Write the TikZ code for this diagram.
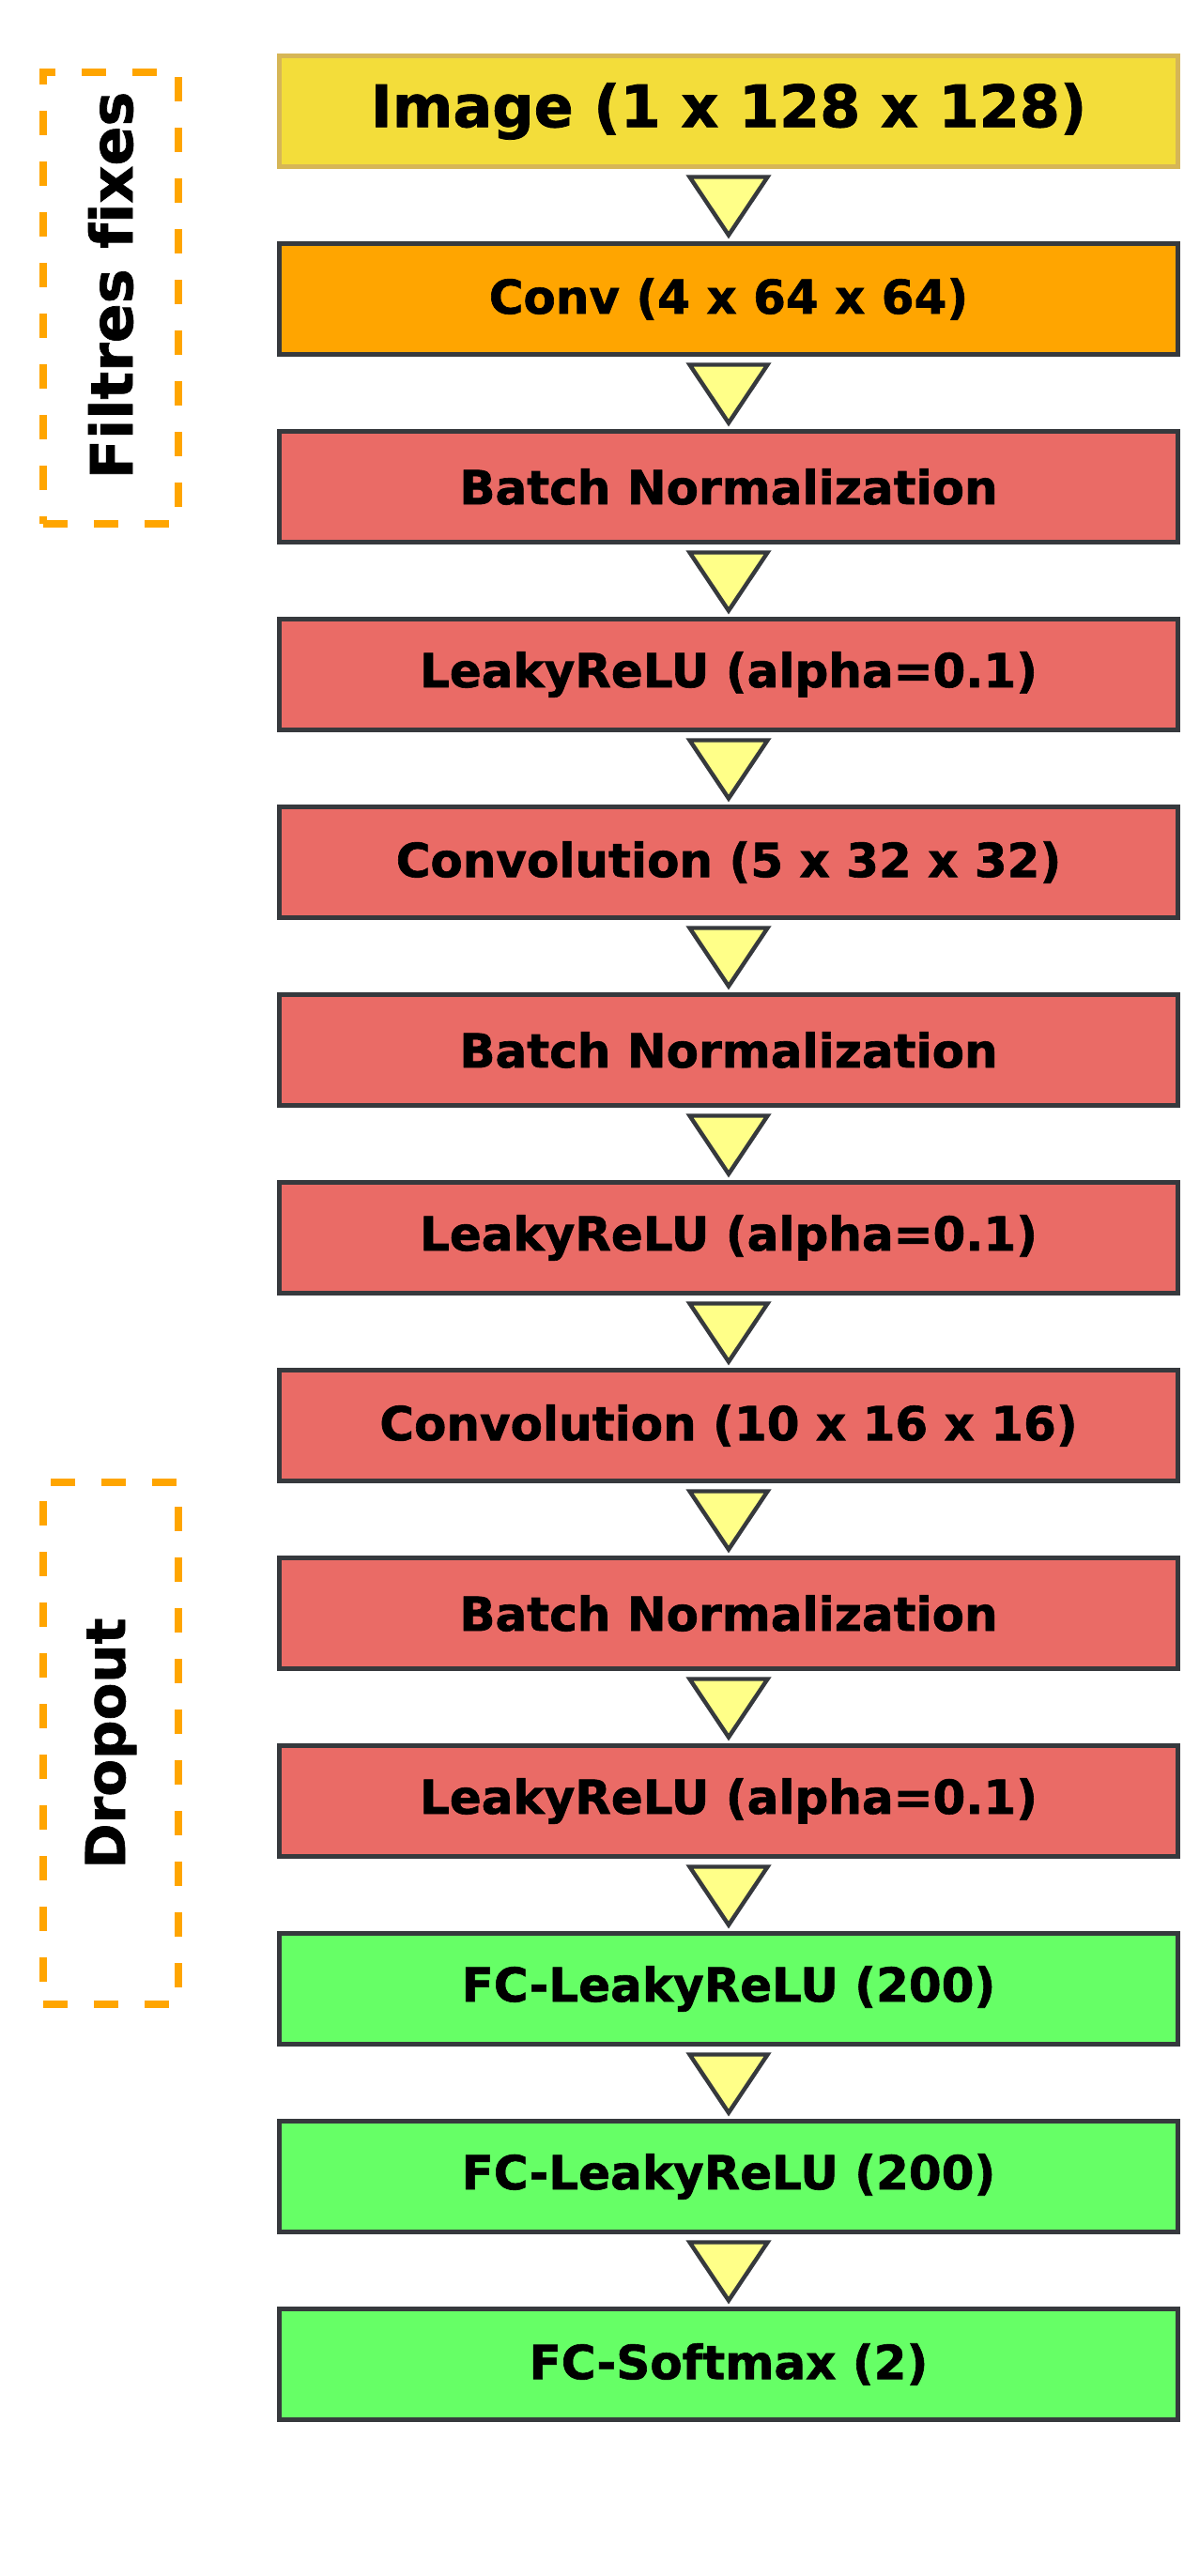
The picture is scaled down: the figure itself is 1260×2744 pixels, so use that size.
\documentclass[tikz,border=0pt]{standalone}
\usepackage{fontspec}
\setmainfont{DejaVu Sans}[Ligatures=NoCommon,BoldFeatures={FakeBold=1.2}]
\usetikzlibrary{positioning,calc}

\definecolor{darkline}{HTML}{36393D}
\definecolor{imgfill}{HTML}{F3DD3A}
\definecolor{imgline}{HTML}{D6B656}
\definecolor{convfill}{HTML}{FFA500}
\definecolor{redfill}{HTML}{EA6B66}
\definecolor{greenfill}{HTML}{66FF66}
\definecolor{trifill}{HTML}{FFFF88}

\tikzset{
  layerbox/.style={draw=darkline,line width=2.5pt,minimum width=478.5pt,minimum height=59pt,
    inner sep=0pt,outer sep=0pt,font=\bfseries\fontsize{25}{30}\selectfont},
  redbox/.style={layerbox,fill=redfill},
  greenbox/.style={layerbox,fill=greenfill},
  tri/.style={draw=darkline,fill=trifill,line width=2.2pt,line join=miter},
  groupbox/.style={draw=convfill,line width=4pt,dash pattern=on 13pt off 14pt,
    minimum width=72pt,inner sep=0pt},
  grouplabel/.style={rotate=90,inner sep=0pt,font=\bfseries\fontsize{31}{36}\selectfont}
}

\begin{document}
\begin{tikzpicture}[x=0.5pt,y=-0.5pt,node distance=41pt]
  \useasboundingbox (0,0) rectangle (1260,2744);
  %\draw[help lines] (0,0) grid[step=100] (1260,2744);

  \node[layerbox,fill=imgfill,draw=imgline,font=\bfseries\fontsize{31}{36}\selectfont] (imginput) at (776,118.5) {Image (1 x 128 x 128)};
  \node[layerbox,fill=convfill,below=of imginput] (convfixed) {Conv (4 x 64 x 64)};
  \node[redbox,below=of convfixed] (batchnorma) {Batch Normalization};
  \node[redbox,below=of batchnorma] (leakya) {LeakyReLU (alpha=0.1)};
  \node[redbox,below=of leakya] (convb) {Convolution (5 x 32 x 32)};
  \node[redbox,below=of convb] (batchnormb) {Batch Normalization};
  \node[redbox,below=of batchnormb] (leakyb) {LeakyReLU (alpha=0.1)};
  \node[redbox,below=of leakyb] (convc) {Convolution (10 x 16 x 16)};
  \node[redbox,below=of convc] (batchnormc) {Batch Normalization};
  \node[redbox,below=of batchnormc] (leakyc) {LeakyReLU (alpha=0.1)};
  \node[greenbox,below=of leakyc] (fca) {FC-LeakyReLU (200)};
  \node[greenbox,below=of fca] (fcb) {FC-LeakyReLU (200)};
  \node[greenbox,below=of fcb] (fcout) {FC-Softmax (2)};

  \foreach \from/\to in {imginput/convfixed,convfixed/batchnorma,batchnorma/leakya,leakya/convb,
      convb/batchnormb,batchnormb/leakyb,leakyb/convc,convc/batchnormc,batchnormc/leakyc,
      leakyc/fca,fca/fcb,fcb/fcout}
    \draw[tri] ($(\from.south)+(-41.5,11)$) -- ($(\from.south)+(41.5,11)$) -- ($(\to.north)+(0,-9)$) -- cycle;

  \node[groupbox,minimum height=240.5pt] (fixedfilters) at (118,317.5) {};
  \node[grouplabel] (fixedlabel) at (118,304) {Filtres fixes};
  \node[groupbox,minimum height=278pt] (dropout) at (118,1857) {};
  \node[grouplabel,font=\bfseries\fontsize{29}{34}\selectfont] (dropoutlabel) at (118,1857) {Dropout};

\end{tikzpicture}
\end{document}
